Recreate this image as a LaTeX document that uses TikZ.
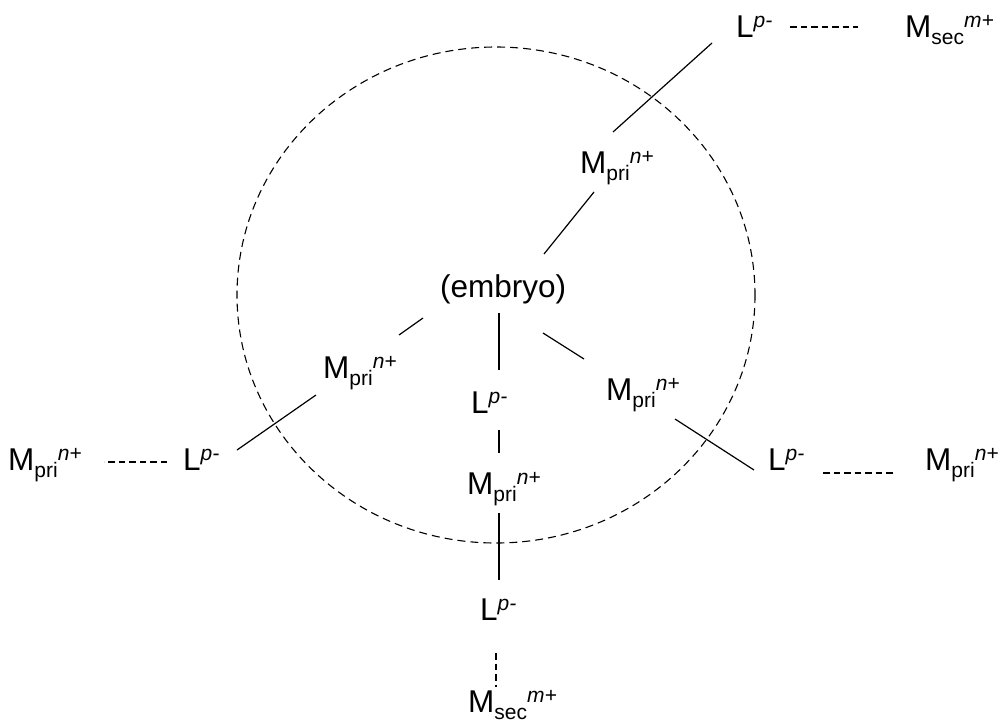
\documentclass[tikz,border=0pt]{standalone}
\usepackage{fontspec}
\setmainfont{Liberation Sans}
\newcommand{\smallfnt}{\fontsize{21}{21}\selectfont}
\newcommand{\ion}[3]{#1\raisebox{-7pt}{\smallfnt #2}\raisebox{10pt}{\smallfnt\itshape #3}}
\newcommand{\lig}{L\raisebox{10pt}{\smallfnt\itshape p-}}
\tikzset{
  lbl/.style={anchor=base west, inner sep=0pt, font=\fontsize{31.5}{33}\selectfont},
  bond/.style={line width=1.2pt},
  weak/.style={line width=1.1pt, dash pattern=on 6.5pt off 4pt},
}
\begin{document}
\begin{tikzpicture}[x=1pt, y=-1pt, line join=round]
\useasboundingbox (0,0) rectangle (1003,723);
\draw[line width=1.1pt, dash pattern=on 8pt off 5pt] (496,295) ellipse [x radius=259, y radius=248];
% labels
\node[lbl] (ltop) at (736,37) {\lig};
\node[lbl] (msectop) at (905,37) {\ion{M}{sec}{m+}};
\node[lbl] (mup) at (580,173) {\ion{M}{pri}{n+}};
\node[lbl] (emb) at (440,297) {(embryo)};
\node[lbl] (mleft) at (323,378) {\ion{M}{pri}{n+}};
\node[lbl] (mright) at (606,400) {\ion{M}{pri}{n+}};
\node[lbl] (lmid) at (471,413) {\lig};
\node[lbl] (mmid) at (467,494) {\ion{M}{pri}{n+}};
\node[lbl] (lbot) at (480,620) {\lig};
\node[lbl] (msecbot) at (468,712) {\ion{M}{sec}{m+}};
\node[lbl] (lleft) at (183,470) {\lig};
\node[lbl] (mfarleft) at (8,470) {\ion{M}{pri}{n+}};
\node[lbl] (lright) at (768,470) {\lig};
\node[lbl] (mfarright) at (925,470) {\ion{M}{pri}{n+}};
% connectors
\draw[bond] ([shift={(33,-41)}]mup.base west) -- ([shift={(-24,6)}]ltop.base west);
\draw[weak] ([shift={(54,-10)}]ltop.base west) -- ([shift={(-47,-10)}]msectop.base west);
\draw[bond] ([shift={(104,-43)}]emb.base west) -- ([shift={(14,19)}]mup.base west);
\draw[bond] ([shift={(-17,21)}]emb.base west) -- ([shift={(76,-43)}]mleft.base west);
\draw[bond] ([shift={(-7,17)}]mleft.base west) -- ([shift={(54,-20)}]lleft.base west);
\draw[weak] ([shift={(-16,-8)}]lleft.base west) -- ([shift={(96,-8)}]mfarleft.base west);
\draw[bond] ([shift={(59,16)}]emb.base west) -- ([shift={(28,-43)}]lmid.base west);
\draw[bond] ([shift={(28,17)}]lmid.base west) -- ([shift={(32,-41)}]mmid.base west);
\draw[bond] ([shift={(32,19)}]mmid.base west) -- ([shift={(19,-40)}]lbot.base west);
\draw[weak] ([shift={(16,33)}]lbot.base west) -- ([shift={(28,-25)}]msecbot.base west);
\draw[bond] ([shift={(103,36)}]emb.base west) -- ([shift={(-22,-41)}]mright.base west);
\draw[bond] ([shift={(69,19)}]mright.base west) -- ([shift={(-14,0)}]lright.base west);
\draw[weak] ([shift={(55,3)}]lright.base west) -- ([shift={(-32,3)}]mfarright.base west);
\end{tikzpicture}
\end{document}
